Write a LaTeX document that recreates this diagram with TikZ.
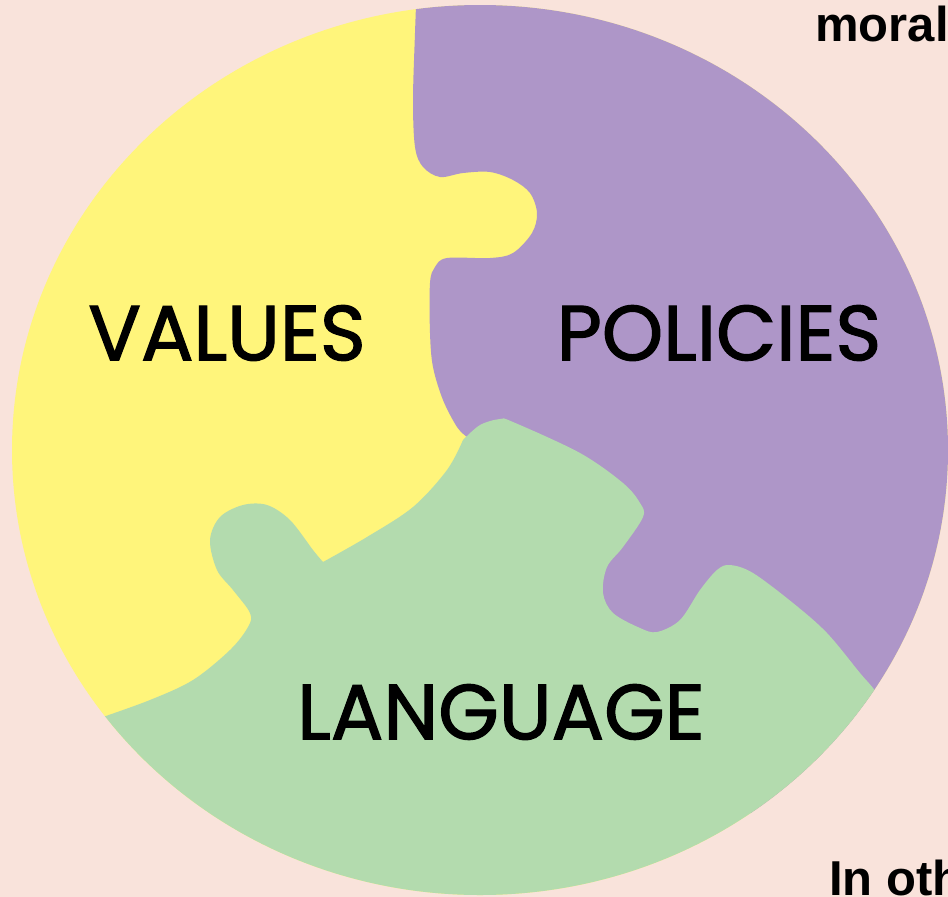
\documentclass[tikz,border=0pt]{standalone}
\usepackage{fontspec}
\setmainfont{Poppins}
\newfontfamily\wordfont{Poppins}[FakeBold=1.6]
\newfontfamily\notefont{Liberation Sans}
\definecolor{bgpink}{HTML}{F9E3DB}
\definecolor{valyellow}{HTML}{FFF57B}
\definecolor{polpurple}{HTML}{AE96C8}
\definecolor{langgreen}{HTML}{B3DBAE}
\begin{document}
\begin{tikzpicture}[x=1pt,y=-1pt,
  word/.style={font=\wordfont\fontsize{78}{80}\selectfont, inner sep=0pt, text=black},
  note/.style={font=\notefont\bfseries\fontsize{49}{50}\selectfont, inner sep=0pt, text=black}]
\useasboundingbox (0,0) rectangle (948,897);
\fill[bgpink] (0,0) rectangle (948,897);
\fill[valyellow] (480,450) ellipse [x radius=468, y radius=445];
\begin{scope}
\clip (480,450) ellipse [x radius=468, y radius=445];
\fill[polpurple] plot[smooth, tension=0.55] coordinates {(417,-20) (415,33) (413,100) (415,147) (423,167) (440,177) (463,173) (490,172) (513,180) (530,193) (537,213) (532,233) (513,253) (490,258) (447,258) (435,267) (430,283) (430,333) (433,367) (443,400) (457,427) (467,437)} -- (600,700) -- (1000,1000) -- (1000,-20) -- cycle;
\fill[langgreen] (40,760) -- plot[smooth, tension=0.55] coordinates {(100,718) (150,700) (193,680) (230,650) (248,627) (250,613) (233,590) (217,570) (210,540) (220,517) (243,505) (267,505) (290,520) (313,550) (323,562)} -- plot[smooth, tension=0.55] coordinates {(323,562) (367,537) (413,507) (447,470) (463,440)} -- plot[smooth, tension=0.55] coordinates {(463,440) (480,425) (500,419) (513,422) (580,453) (623,483) (640,503) (643,517) (623,547) (607,567) (603,593) (613,613) (640,628) (657,632) (680,620) (700,590) (717,570) (730,565) (753,573) (793,603) (827,633) (860,673) (877,693) (920,750)} -- (1000,1000) -- (0,1000) -- cycle;
\end{scope}
\node[word] (values) at (227,333) {VALUES};
\node[word] (policies) at (719,333) {POLICIES};
\node[word] (language) at (501,712) {LANGUAGE};
\node[note, anchor=base west] (moral) at (815,41) {moral};
\node[note, anchor=base west] (inoth) at (829,895) {In oth};
\end{tikzpicture}
\end{document}
